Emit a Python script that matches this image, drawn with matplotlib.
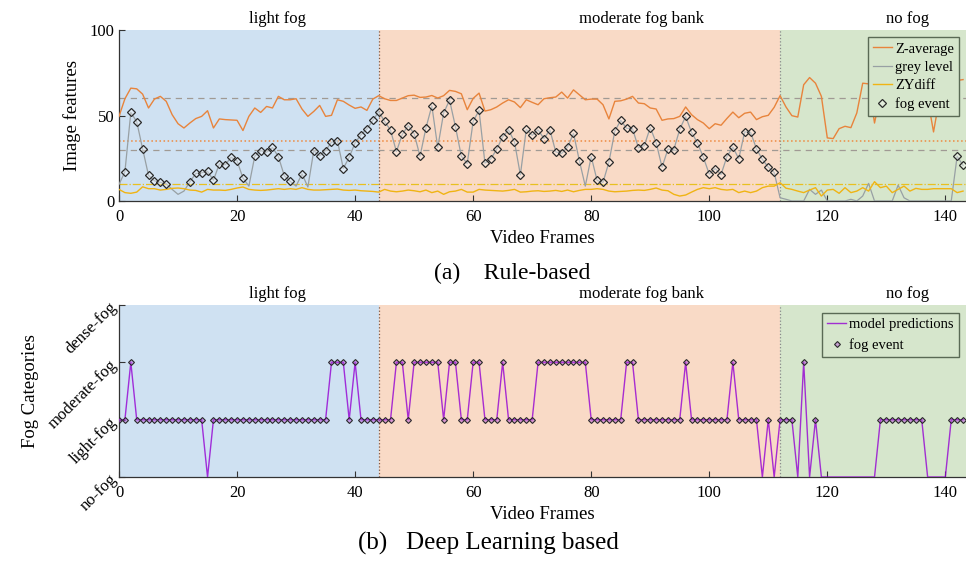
import matplotlib.pyplot as plt
import numpy as np

plt.rcParams['font.family'] = ['Liberation Serif', 'DejaVu Serif']

frames = np.arange(144)

# rule-based image features, one value per video frame
z_average = [
    49.5, 59.8, 66.0, 65.6, 62.5, 54.4, 59.6, 61.2, 58.3, 50.5, 45.2, 42.7,
    45.6, 48.2, 49.5, 52.8, 42.7, 48.0, 47.6, 47.4, 47.2, 41.2, 49.5, 54.4,
    51.8, 55.3, 54.4, 61.2, 59.2, 59.2, 59.8, 53.8, 49.5, 52.4, 55.9, 49.5,
    50.1, 59.2, 58.3, 56.1, 54.2, 55.0, 53.0, 59.6, 61.6, 59.8, 58.8, 58.8,
    60.2, 61.6, 61.9, 60.6, 60.8, 61.7, 60.2, 61.6, 64.7, 64.1, 62.7, 53.4,
    60.0, 63.1, 52.6, 53.4, 55.0, 57.3, 59.2, 57.9, 54.6, 59.2, 57.7, 56.3,
    59.8, 60.4, 60.8, 63.7, 60.2, 65.0, 62.1, 59.2, 59.6, 59.6, 56.3, 48.0,
    58.3, 58.6, 59.6, 61.2, 57.3, 56.9, 54.4, 53.8, 47.2, 48.0, 48.2, 49.5,
    55.0, 50.5, 47.6, 45.6, 42.3, 45.2, 44.3, 48.3, 52.0, 48.7, 51.3, 52.0,
    47.6, 49.3, 50.1, 54.8, 61.6, 55.0, 49.9, 49.1, 68.0, 72.2, 68.9, 61.2,
    36.9, 36.5, 42.3, 43.7, 42.9, 51.5, 68.9, 68.5, 45.6, 62.0, 66.0, 64.0,
    60.0, 63.0, 65.0, 62.0, 66.0, 60.0, 40.4, 60.0, 65.0, 68.0, 70.5, 71.0,
]
grey_level = [
    9.7, 17.1, 51.8, 46.4, 30.5, 15.0, 11.8, 10.9, 10.1, 6.8, 3.9, 5.8,
    11.1, 16.1, 16.5, 17.3, 12.2, 21.7, 21.2, 25.6, 23.5, 13.4, 8.7, 26.2,
    29.5, 28.5, 31.3, 26.0, 14.8, 11.5, 8.7, 15.9, 8.2, 29.5, 26.4, 29.5,
    34.4, 35.3, 19.0, 25.6, 34.0, 38.8, 42.1, 47.2, 52.2, 46.6, 41.4, 28.9,
    39.0, 44.1, 39.4, 26.2, 42.7, 55.7, 31.3, 51.5, 59.0, 43.5, 26.2, 21.9,
    46.6, 53.0, 22.1, 24.7, 30.3, 37.5, 41.6, 34.6, 15.3, 41.9, 38.4, 41.6,
    36.5, 41.6, 28.7, 27.8, 31.5, 39.6, 23.5, 8.7, 26.0, 12.0, 10.9, 22.7,
    40.8, 47.2, 42.5, 42.3, 31.1, 32.4, 42.9, 34.2, 19.8, 30.3, 30.1, 41.9,
    49.5, 40.2, 34.0, 25.6, 15.7, 19.0, 15.5, 26.0, 31.5, 24.7, 40.4, 40.2,
    30.5, 24.3, 19.8, 16.7, 1.9, 1.0, 0.0, 0.0, 0.0, 6.8, 3.9, 6.4,
    0.0, 0.0, 0.0, 0.0, 1.0, 0.0, 2.9, 10.3, 0.0, 0.0, 0.0, 0.0,
    9.3, 1.9, 0.0, 0.0, 0.0, 0.0, 0.0, 0.0, 0.0, 0.0, 26.2, 20.8,
]
zy_diff = [
    6.8, 4.9, 4.5, 5.2, 8.3, 7.2, 7.2, 6.4, 6.8, 7.4, 7.6, 7.2,
    6.4, 6.2, 5.2, 6.8, 6.4, 6.4, 6.2, 6.8, 7.6, 8.2, 6.8, 6.4,
    6.2, 6.4, 6.8, 7.2, 6.8, 7.2, 6.8, 7.8, 6.8, 6.4, 6.4, 6.6,
    6.8, 7.0, 6.4, 6.2, 6.4, 6.0, 5.8, 5.6, 5.2, 6.8, 5.8, 5.4,
    5.8, 6.4, 6.0, 5.4, 6.4, 4.9, 5.8, 3.9, 5.4, 5.8, 6.8, 5.2,
    5.2, 6.8, 6.4, 6.2, 6.0, 5.8, 6.2, 6.8, 5.2, 5.4, 5.8, 6.0,
    5.6, 5.8, 6.2, 5.6, 6.4, 5.4, 6.2, 6.8, 6.8, 7.2, 6.8, 5.8,
    5.4, 5.6, 5.8, 6.2, 6.4, 6.2, 6.8, 7.6, 6.4, 6.0, 3.9, 2.9,
    3.5, 5.2, 6.8, 7.8, 7.2, 7.8, 6.8, 6.4, 6.8, 4.9, 5.8, 4.9,
    5.8, 7.8, 8.7, 8.7, 10.7, 7.5, 6.8, 5.8, 4.9, 6.4, 7.8, 2.9,
    6.4, 6.8, 4.5, 7.8, 4.9, 5.8, 7.8, 5.8, 11.3, 7.8, 8.7, 4.9,
    6.8, 8.7, 5.8, 7.4, 6.8, 6.8, 7.2, 7.2, 7.2, 7.2, 4.9, 5.8,
]
# 1 where the rule-based method flags a fog event
rule_event = [
    0, 1, 1, 1, 1, 1, 1, 1, 1, 0, 0, 0, 1, 1, 1, 1, 1, 1, 1, 1, 1, 1, 0, 1,
    1, 1, 1, 1, 1, 1, 0, 1, 0, 1, 1, 1, 1, 1, 1, 1, 1, 1, 1, 1, 1, 1, 1, 1,
    1, 1, 1, 1, 1, 1, 1, 1, 1, 1, 1, 1, 1, 1, 1, 1, 1, 1, 1, 1, 1, 1, 1, 1,
    1, 1, 1, 1, 1, 1, 1, 0, 1, 1, 1, 1, 1, 1, 1, 1, 1, 1, 1, 1, 1, 1, 1, 1,
    1, 1, 1, 1, 1, 1, 1, 1, 1, 1, 1, 1, 1, 1, 1, 1, 0, 0, 0, 0, 0, 0, 0, 0,
    0, 0, 0, 0, 0, 0, 0, 0, 0, 0, 0, 0, 0, 0, 0, 0, 0, 0, 0, 0, 0, 0, 1, 1,
]
# deep learning predictions: 0 no-fog, 1 light-fog, 2 moderate-fog, 3 dense-fog
predictions = [
    1, 1, 2, 1, 1, 1, 1, 1, 1, 1, 1, 1, 1, 1, 1, 0, 1, 1, 1, 1, 1, 1, 1, 1,
    1, 1, 1, 1, 1, 1, 1, 1, 1, 1, 1, 1, 2, 2, 2, 1, 2, 1, 1, 1, 1, 1, 1, 2,
    2, 1, 2, 2, 2, 2, 2, 1, 2, 2, 1, 1, 2, 2, 1, 1, 1, 2, 1, 1, 1, 1, 1, 2,
    2, 2, 2, 2, 2, 2, 2, 2, 1, 1, 1, 1, 1, 1, 2, 2, 1, 1, 1, 1, 1, 1, 1, 1,
    2, 1, 1, 1, 1, 1, 1, 1, 2, 1, 1, 1, 1, 0, 1, 0, 1, 1, 1, 0, 2, 0, 1, 0,
    0, 0, 0, 0, 0, 0, 0, 0, 0, 1, 1, 1, 1, 1, 1, 1, 1, 0, 0, 0, 0, 1, 1, 1,
]
fog_classes = ['no-fog', 'light-fog', 'moderate-fog', 'dense-fog']

region_bounds = [0, 44, 112, 144]
region_names = ['light fog', 'moderate fog bank', 'no fog']
region_label_x = [26.8, 88.6, 133.6]
region_colors = ['#cfe1f2', '#f9dac6', '#d6e6cc']

z_thr = 60
grey_thr = [30, 35]
zy_thr = 10

fig = plt.figure(figsize=(9.66, 5.61), dpi=100)
ax1 = fig.add_axes([0.1232, 0.6417, 0.8768, 0.3048])
ax2 = fig.add_axes([0.1232, 0.1497, 0.8768, 0.3066])


def shade(ax):
    for i in range(3):
        ax.axvspan(region_bounds[i], region_bounds[i + 1], color=region_colors[i], lw=0, zorder=0)
        ax.text(region_label_x[i], 1.015, region_names[i], transform=ax.get_xaxis_transform(),
                ha='center', va='bottom', fontsize=12)
    ax.axvline(44, ls=':', color='#7a5a4a', lw=0.9, zorder=1)
    ax.axvline(112, ls=':', color='#8a8a8a', lw=0.9, zorder=1)
    ax.set_xlim(0, 143.5)
    ax.set_xticks(range(0, 141, 20))
    ax.tick_params(direction='in', labelsize=12, length=4, color='#333333')
    ax.tick_params(axis='x', pad=6)
    for s in ['top', 'right']:
        ax.spines[s].set_visible(False)
    for s in ['left', 'bottom']:
        ax.spines[s].set_color('#333333')
        ax.spines[s].set_linewidth(0.9)
    ax.set_xlabel('Video Frames', fontsize=13.5, labelpad=3)


# (a) rule-based
shade(ax1)
ax1.axhline(z_thr, ls=(0, (5, 4)), color='#a09a94', lw=0.9, zorder=1)
ax1.axhline(grey_thr[0], ls=(0, (5, 4)), color='#a09a94', lw=0.9, zorder=1)
ax1.axhline(grey_thr[1], ls=':', color='#ee8a40', lw=1.1, zorder=1)
ax1.axhline(zy_thr, ls='-.', color='#e8c020', lw=0.9, zorder=1)
ax1.plot(frames, z_average, color='#e8843c', lw=1.0, label='Z-average', zorder=3)
ax1.plot(frames, grey_level, color='#98a0a4', lw=0.9, label='grey level', zorder=3)
ax1.plot(frames, zy_diff, color='#f0b414', lw=1.0, label='ZYdiff', zorder=3)
ev = np.array(rule_event) == 1
ax1.plot(frames[ev], np.array(grey_level)[ev], ls='none', marker='D', ms=3.7,
         mfc=(1, 1, 1, 0.35), mec='#2a2a2a', mew=0.9, label='fog event', zorder=4)
ax1.set_ylim(0, 100)
ax1.set_yticks([0, 50, 100])
ax1.set_ylabel('Image features', fontsize=13.5, labelpad=6)
leg1 = ax1.legend(loc='upper right', bbox_to_anchor=(0.995, 0.975), fontsize=10.5,
                  frameon=True, fancybox=False, framealpha=1, facecolor='#d6e6cc',
                  edgecolor='#5a6a55', handlelength=1.3, borderpad=0.35, labelspacing=0.35,
                  handletextpad=0.2, borderaxespad=0.2)
leg1.get_frame().set_linewidth(1.0)

# (b) deep learning
shade(ax2)
ax2.plot(frames, predictions, color='#9400d3', alpha=0.8, lw=1.0, label='model predictions', zorder=3)
pr = np.array(predictions)
pe = pr >= 1
ax2.plot(frames[pe], pr[pe], ls='none', marker='D', ms=3.0, mfc=(0.7, 0.3, 0.85, 0.45),
         mec='#2a2a2a', mew=0.8, label='fog event', zorder=4)
ax2.set_ylim(0, 3)
ax2.set_yticks(range(4))
ax2.set_yticklabels(fog_classes, rotation=45, ha='right', va='center', rotation_mode='anchor')
ax2.set_ylabel('Fog Categories', fontsize=13.5, labelpad=4)
leg2 = ax2.legend(loc='upper right', bbox_to_anchor=(0.995, 0.97), fontsize=10.5,
                  frameon=True, fancybox=False, framealpha=1, facecolor='#d6e6cc',
                  edgecolor='#5a6a55', handlelength=1.3, borderpad=0.35, labelspacing=0.45,
                  handletextpad=0.2, borderaxespad=0.2)
leg2.get_frame().set_linewidth(1.0)

fig.text(0.53, 0.512, '(a)    Rule-based', ha='center', va='center', fontsize=17)
fig.text(0.506, 0.032, '(b)   Deep Learning based', ha='center', va='center', fontsize=18)

fig.savefig('out.png', dpi=100)
